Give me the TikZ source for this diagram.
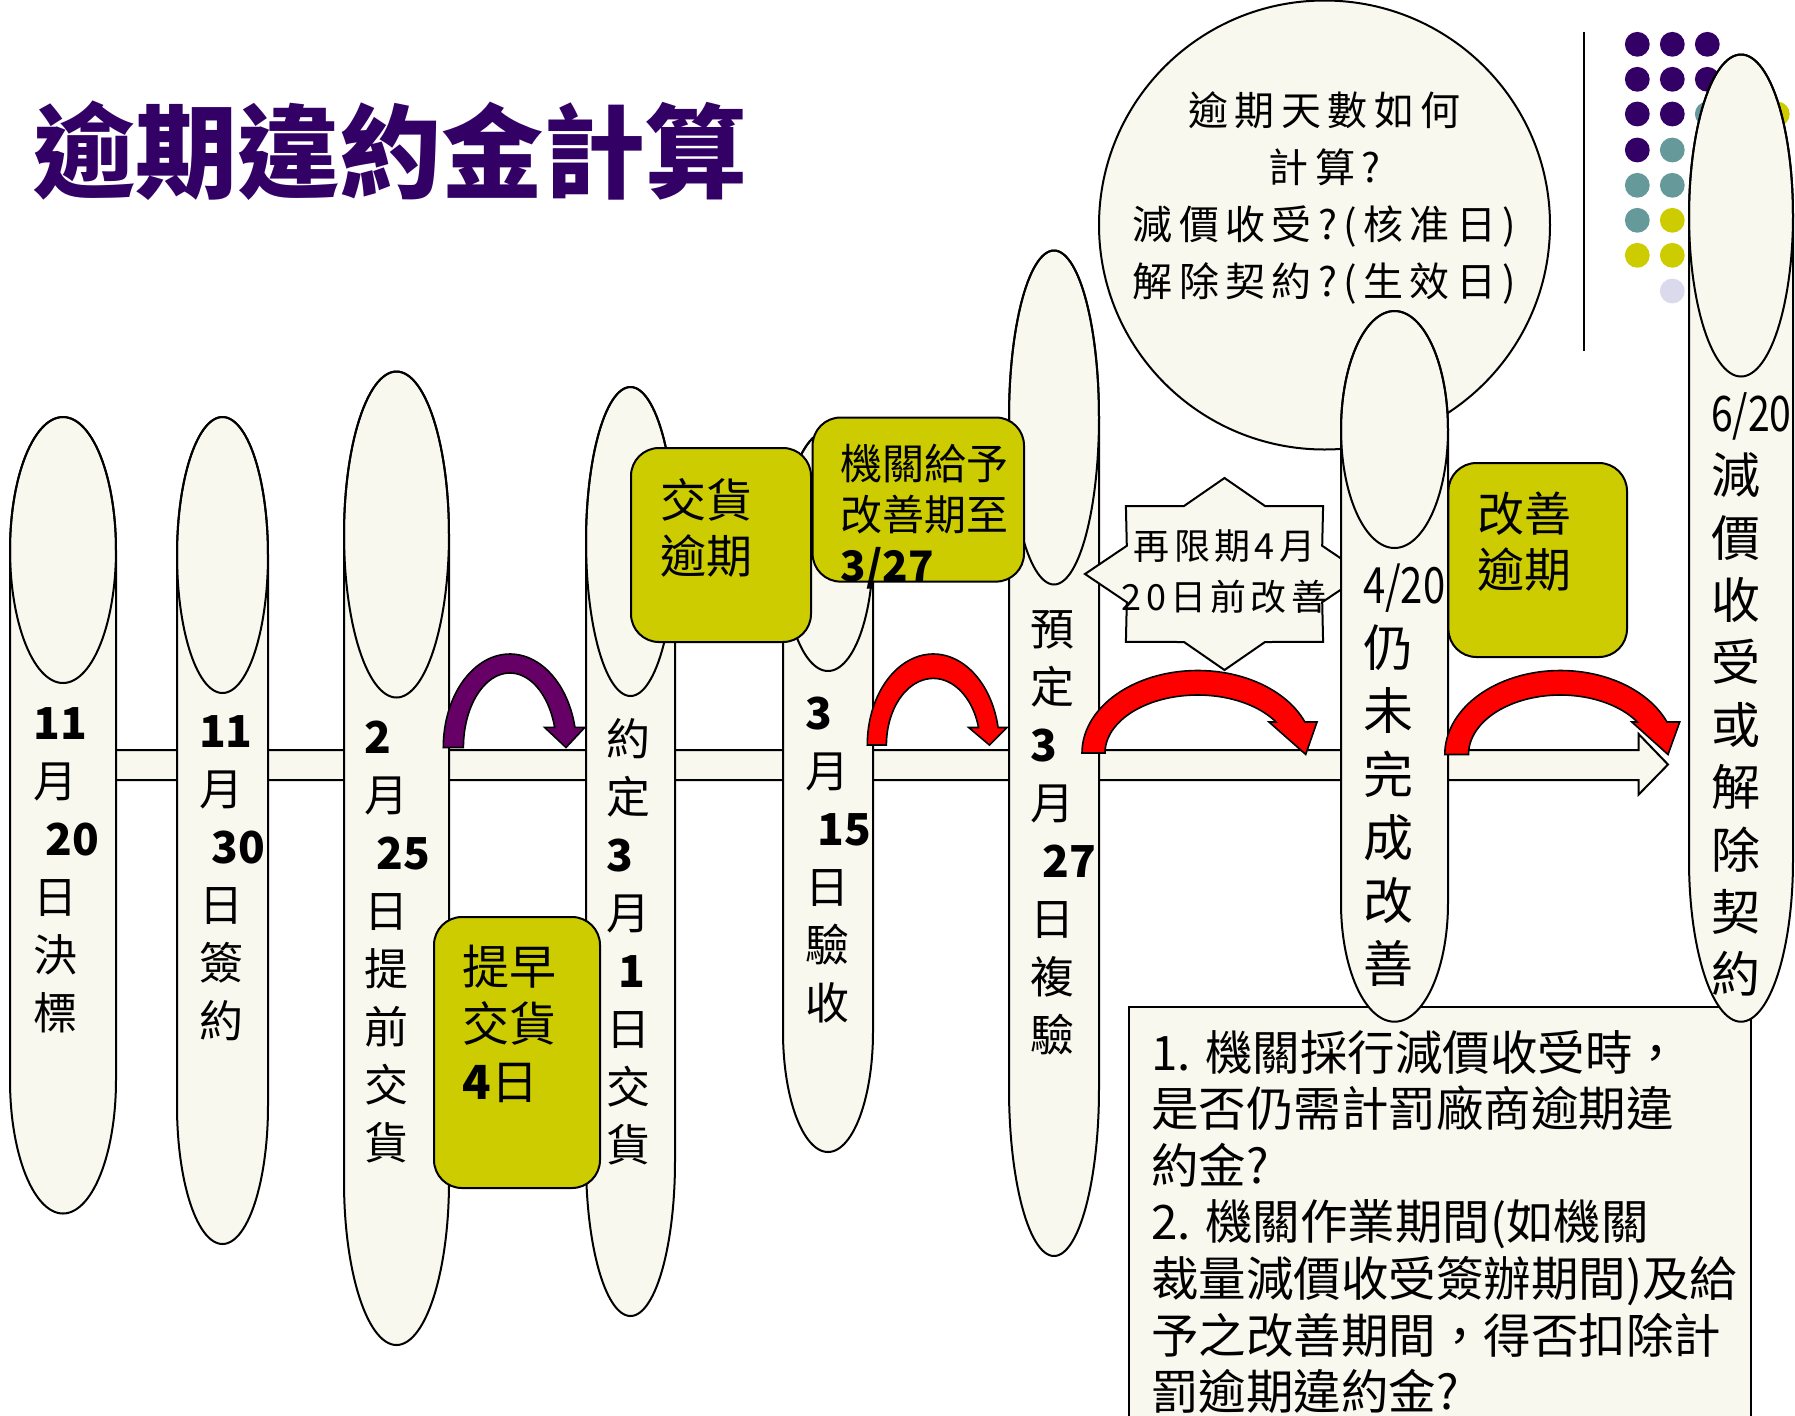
\documentclass[tikz,border=0pt]{standalone}
\usepackage{fontspec}
\setmainfont{Noto Sans CJK TC}
\usepackage{graphicx}
\definecolor{cream}{RGB}{248,248,238}
\definecolor{olive}{RGB}{204,204,0}
\definecolor{titlepurple}{RGB}{51,0,102}
\definecolor{arrpurple}{RGB}{102,0,102}
\definecolor{dotteal}{RGB}{102,153,153}
\definecolor{dotlav}{RGB}{218,218,236}
\newcommand{\lines}[4]{\parbox[t]{#1}{\raggedright\fontsize{#2}{#3}\selectfont #4}}
\newcommand{\clines}[4]{\parbox[t]{#1}{\centering\fontsize{#2}{#3}\selectfont #4}}
\newcommand{\drawcan}[5]{%
  \pgfmathsetmacro{\cancx}{(#1+#2)/2}%
  \pgfmathsetmacro{\canrx}{(#2-#1)/2}%
  \filldraw[canbody] (#1,#3+#5) -- (#1,#4-#5)
    -- plot[domain=180:360,samples=61,variable=\ang] ({\cancx+\canrx*cos(\ang)},{#4-#5-#5*sin(\ang)})
    -- (#2,#3+#5)
    -- plot[domain=0:180,samples=61,variable=\ang] ({\cancx+\canrx*cos(\ang)},{#3+#5-#5*sin(\ang)})
    -- cycle;
  \draw[canedge] plot[domain=0:360,samples=121,variable=\ang] ({\cancx+\canrx*cos(\ang)},{#3+#5-#5*sin(\ang)}) -- cycle;
}
\begin{document}
\begin{tikzpicture}[x=0.5pt,y=-0.5pt,
  canbody/.style={draw=black,line width=1pt,fill=cream},
  canedge/.style={draw=black,line width=1pt},
  ybox/.style={draw=black,line width=1pt,fill=olive,rounded corners=14pt},
  arrline/.style={draw=black,line width=0.8pt},
  txt/.style={inner sep=0pt,anchor=base west},
  ctxt/.style={inner sep=0pt,anchor=base}]
\useasboundingbox (0,0) rectangle (1795,1415);
\fill[white] (0,0) rectangle (1795,1415);
\clip (0,0) rectangle (1795,1415);

% title
\node[txt,text=titlepurple] (title) at (33,190) {\fontsize{51pt}{51pt}\selectfont\bfseries 逾期違約金計算};

% dots and rule
\foreach \xx/\yy/\cc in {1637.3/44.3/titlepurple,1672.3/44.3/titlepurple,1707.3/44.3/titlepurple,
  1637.3/79.3/titlepurple,1672.3/79.3/titlepurple,1707.3/79.3/titlepurple,
  1637.3/114/titlepurple,1672.3/114/titlepurple,1707.3/114/dotteal,1777.3/114/olive,
  1637.3/150/titlepurple,1672.3/150/dotteal,
  1637.3/185.3/dotteal,1672.3/185.3/dotteal,
  1637.3/220.3/dotteal,1672.3/220.3/olive,
  1637.3/255.3/olive,1672.3/255.3/olive,
  1672.3/291/dotlav}
  \fill[\cc] (\xx,\yy) circle[radius=6.2pt];
\draw[line width=0.9pt] (1584,32) -- (1584,351);

% timeline band
\filldraw[draw=black,line width=1pt,fill=cream] (60,750) -- (1638.6,750) -- (1638.6,734) -- (1668,764.5)
  -- (1638.6,794.6) -- (1638.6,780) -- (60,780) -- cycle;

% question circle
\filldraw[draw=black,line width=1pt,fill=cream] (1324.5,225) ellipse[x radius=112.75pt,y radius=112.25pt];
\node[ctxt] (qtext) at (1324.5,125) {\clines{240pt}{20pt}{28.5pt}{\addfontfeatures{LetterSpace=16}逾期天數如何\\計算?\\減價收受?(核准日)\\解除契約?(生效日)}};

% note box
\filldraw[draw=black,line width=1pt,fill=cream] (1128.8,1006.7) rectangle (1750.6,1440);
\node[txt] (note) at (1151,1070) {\lines{330pt}{23.75pt}{28.3pt}{1. 機關採行減價收受時，\\是否仍需計罰廠商逾期違\\約金?\\2. 機關作業期間(如機關\\裁量減價收受簽辦期間)及給\\予之改善期間，得否扣除計\\罰逾期違約金?}};

% cans 1-6
\drawcan{10}{116}{417}{1213.5}{133}
\node[txt] (c1) at (33,739) {\lines{60pt}{22pt}{29pt}{\textbf{11}\\月\\\hspace*{0.28em}\textbf{20}\\日\\決\\標}};
\drawcan{177}{268}{417}{1244}{138}
\node[txt] (c2) at (198.6,747) {\lines{60pt}{22pt}{29pt}{\textbf{11}\\月\\\hspace*{0.28em}\textbf{30}\\日\\簽\\約}};
\drawcan{344}{449}{371.5}{1345}{163}
\node[txt] (c3) at (364,753) {\lines{60pt}{22pt}{29pt}{\textbf{2}\\月\\\hspace*{0.28em}\textbf{25}\\日\\提\\前\\交\\貨}};
\drawcan{586}{675}{387}{1316}{154.5}
\node[txt] (c4) at (606,755.5) {\lines{60pt}{22pt}{29pt}{約\\定\\\textbf{3}\\月\\\hspace*{0.28em}\textbf{1}\\日\\交\\貨}};
\drawcan{783}{873}{431}{1152}{120}
\node[txt] (c5) at (805,729.5) {\lines{60pt}{22pt}{29pt}{\textbf{3}\\月\\\hspace*{0.28em}\textbf{15}\\日\\驗\\收}};
\drawcan{1009}{1099}{250.5}{1256}{167}
\node[txt] (c6) at (1030,645) {\lines{60pt}{22pt}{29pt}{預\\定\\\textbf{3}\\月\\\hspace*{0.28em}\textbf{27}\\日\\複\\驗}};

% star
\filldraw[draw=black,line width=1pt,fill=cream] (1224.5,478) -- (1184.0,506.0) -- (1125.9,506.1) -- (1126.8,545.8)
  -- (1085.0,574) -- (1126.8,602.2) -- (1125.9,641.9) -- (1184.0,642.0) -- (1224.5,670)
  -- (1265.0,642.0) -- (1323.1,641.9) -- (1322.2,602.2) -- (1364.0,574) -- (1322.2,545.8)
  -- (1323.1,506.1) -- (1265.0,506.0) -- cycle;
\node[ctxt] (star) at (1224.5,559) {\clines{200pt}{18pt}{25.85pt}{\addfontfeatures{LetterSpace=12}再限期4月\\20日前改善}};

% cans 8 and 7
\drawcan{1341}{1448}{311}{1021.7}{118.5}
\node[txt] (c8) at (1362.7,603.5) {\lines{60pt}{25pt}{31.6pt}{\scalebox{0.8}[1]{4/20}\\仍\\未\\完\\成\\改\\善}};
\drawcan{1689}{1793}{54.5}{1021.7}{161}
\node[txt] (c7) at (1710.6,431.3) {\lines{60pt}{24.5pt}{31.2pt}{\scalebox{0.8}[1]{6/20}\\減\\價\\收\\受\\或\\解\\除\\契\\約}};

% yellow boxes
\filldraw[ybox] (631,448) rectangle (811,642);
\node[txt] (b1) at (660,517) {\lines{100pt}{23pt}{28pt}{交貨\\逾期}};
\filldraw[ybox] (812.6,417.5) rectangle (1024,581.6);
\node[txt] (b2) at (840.5,479.5) {\lines{100pt}{21pt}{25.5pt}{機關給予\\改善期至\\\textbf{3/27}}};
\filldraw[ybox] (434,917) rectangle (600,1188);
\node[txt] (b3) at (462,984.4) {\lines{100pt}{23.5pt}{28.75pt}{提早\\交貨\\\textbf{4}日}};
\filldraw[ybox] (1448.4,463) rectangle (1627,657);
\node[txt] (b4) at (1476.7,531.4) {\lines{100pt}{23.5pt}{28pt}{改善\\逾期}};

% curved arrows
\filldraw[arrline,fill=arrpurple]
  plot[domain=180:12.4,samples=60,variable=\ang] ({509.9+66.6*cos(\ang)},{747.5-93.5*sin(\ang)})
  -- (584.8,727.4) -- (566,747.5) -- (544.6,727.4)
  -- plot[domain=15.65:180,samples=60,variable=\ang] ({509.9+46.5*cos(\ang)},{747.5-74.5*sin(\ang)})
  -- cycle;
\filldraw[arrline,fill=red]
  plot[domain=180:11.1,samples=60,variable=\ang] ({933.3+66*cos(\ang)},{745-91*sin(\ang)})
  -- (1007,727.5) -- (989.4,745) -- (968.7,727.5)
  -- plot[domain=15.2:180,samples=60,variable=\ang] ({933.3+46.9*cos(\ang)},{745-66.6*sin(\ang)})
  -- cycle;
\filldraw[arrline,fill=red]
  plot[domain=180:22.1,samples=60,variable=\ang] ({1197.7+115.7*cos(\ang)},{753-82.5*sin(\ang)})
  -- (1317,722) -- (1305.7,754.4) -- (1269,722)
  -- plot[domain=32.3:180,samples=60,variable=\ang] ({1197.7+92.7*cos(\ang)},{753-58*sin(\ang)})
  -- cycle;
\filldraw[arrline,fill=red]
  plot[domain=180:22.8,samples=60,variable=\ang] ({1560.4+115.6*cos(\ang)},{754.5-84*sin(\ang)})
  -- (1679.7,722) -- (1668,754.5) -- (1631.8,722)
  -- plot[domain=33.1:180,samples=60,variable=\ang] ({1560.4+91.9*cos(\ang)},{754.5-59.5*sin(\ang)})
  -- cycle;
\end{tikzpicture}
\end{document}
